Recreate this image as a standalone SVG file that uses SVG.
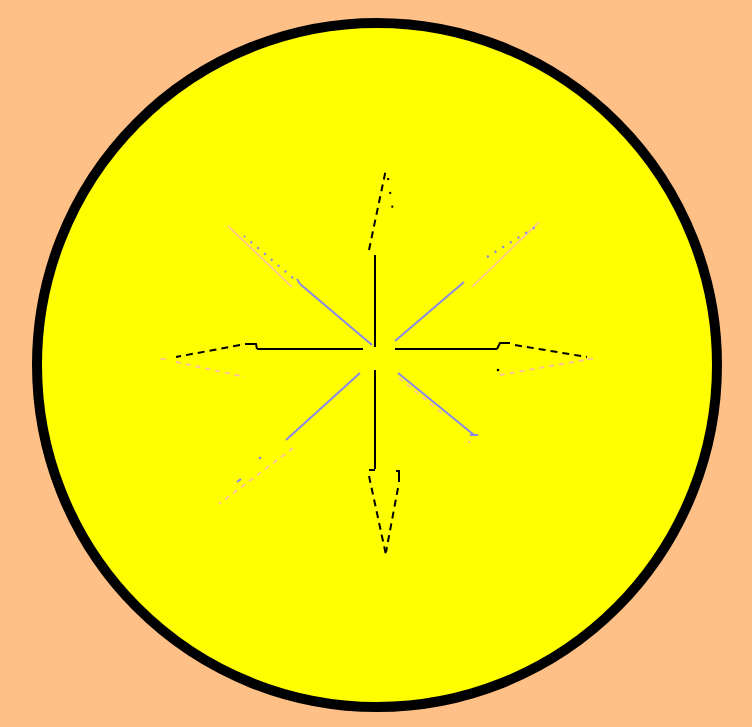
<svg xmlns="http://www.w3.org/2000/svg" width="752" height="727" viewBox="0 0 752 727">
<style>
.k{stroke:#000;stroke-width:2;fill:none}
.kd{stroke:#000;stroke-width:2;fill:none;stroke-dasharray:7 5}
.kdot{stroke:#000;stroke-width:2;fill:none;stroke-dasharray:2 12}
.b{stroke:#8888ee;stroke-width:2;fill:none}
.bd{stroke:#8888ee;stroke-width:2.2;fill:none;stroke-dasharray:2 7}
.p{stroke:#ffc0a0;stroke-width:1.6;fill:none}
.pd{stroke:#ffc0a0;stroke-width:1.8;fill:none;stroke-dasharray:5 5}
</style>
<rect width="752" height="727" fill="#ffc088"/>
<g id="disc">
<ellipse cx="377" cy="365" rx="340" ry="342" fill="#ffff00" stroke="#000" stroke-width="10"/>
</g>
<g id="arrows">
<g id="up">
<line class="k" x1="375" y1="347" x2="375" y2="255"/>
<line class="kd" x1="369" y1="250" x2="386" y2="169"/>
<line class="kdot" x1="388" y1="178" x2="394" y2="218"/>
</g>
<g id="left">
<line class="k" x1="363" y1="349" x2="257" y2="349"/>
<polyline class="k" points="257,349 256,344 245,344"/>
<line class="kd" x1="240" y1="345" x2="176" y2="357"/>
<line class="p" x1="160" y1="359" x2="166" y2="359"/>
<line class="pd" x1="176" y1="362" x2="245" y2="377" stroke-dasharray="2 11"/>
</g>
<g id="right">
<line class="k" x1="395" y1="349" x2="497" y2="349"/>
<polyline class="k" points="497,349 500,343 510,343"/>
<line class="kd" x1="515" y1="345" x2="587" y2="357"/>
<line class="p" x1="587" y1="359" x2="593" y2="359"/>
<line class="pd" x1="500" y1="375" x2="590" y2="359"/>
<circle cx="498" cy="370" r="1.3" fill="#000"/>
</g>
<g id="down">
<line class="k" x1="375" y1="370" x2="375" y2="469"/>
<line class="k" x1="375" y1="470" x2="369" y2="470"/>
<line class="kd" x1="369" y1="476" x2="386" y2="555"/>
<polyline class="k" points="396,471 399,471 399,482"/>
<line class="kd" x1="398" y1="488" x2="386" y2="552"/>
</g>
<g id="nw">
<line class="b" x1="372" y1="345" x2="300" y2="284"/>
<line class="b" x1="300" y1="284" x2="297" y2="279"/>
<line class="bd" x1="293" y1="278" x2="244" y2="236"/>
<line class="p" x1="228" y1="226" x2="292" y2="287"/>
</g>
<g id="ne">
<line class="b" x1="395" y1="341" x2="464" y2="282"/>
<line class="p" x1="472" y1="287" x2="539" y2="222"/>
<line class="bd" x1="487" y1="257" x2="537" y2="226"/>
</g>
<g id="sw">
<line class="b" x1="360" y1="373" x2="286" y2="440"/>
<line class="pd" x1="293" y1="448" x2="219" y2="504" stroke-dasharray="4 3"/>
<circle cx="260" cy="458" r="1.3" fill="#8888ee"/>
<line class="b" x1="237" y1="482" x2="241" y2="479"/>
</g>
<g id="se">
<line class="b" x1="398" y1="373" x2="474" y2="435"/>
<line class="b" x1="470" y1="435" x2="478" y2="435"/>
<line class="pd" x1="399" y1="378" x2="443" y2="414" stroke-dasharray="10 8"/>
<circle cx="469" cy="442" r="1.2" fill="#ffc0a0"/>
</g>
</g>
</svg>
